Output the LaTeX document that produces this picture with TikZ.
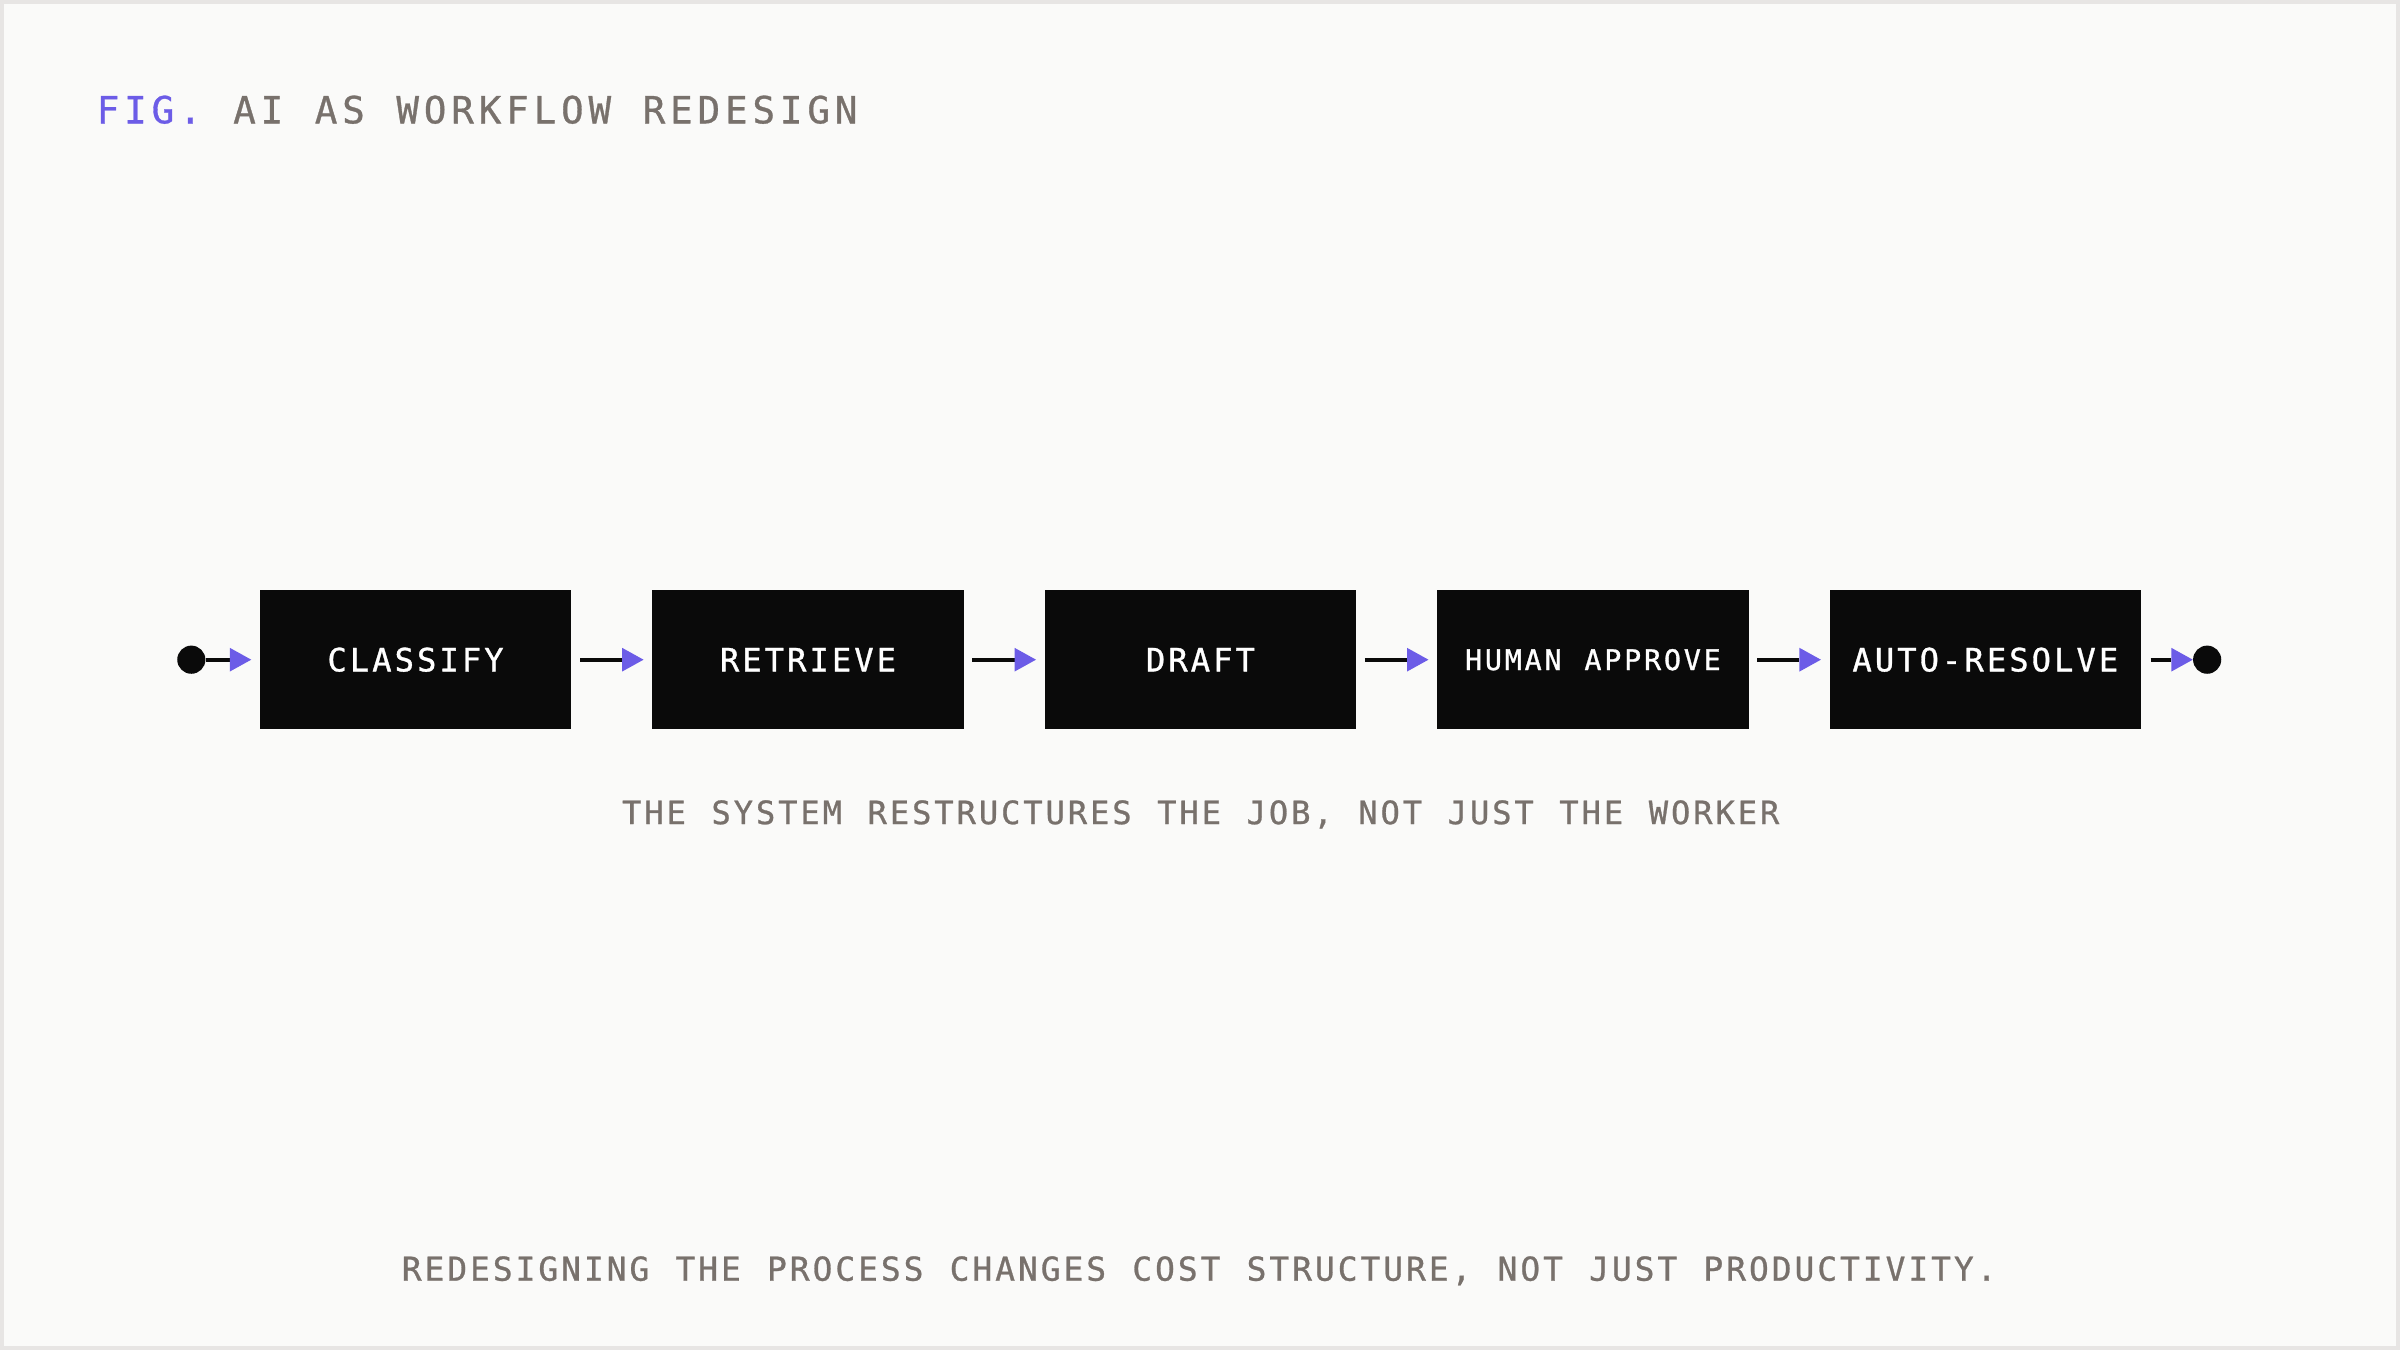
\documentclass[tikz,border=0pt]{standalone}
\usepackage{fontspec}
\usetikzlibrary{positioning,arrows.meta}

\definecolor{paper}{HTML}{FAFAF9}
\definecolor{rim}{HTML}{E7E5E4}
\definecolor{ink}{HTML}{0A0A0A}
\definecolor{stone}{HTML}{78716C}
\definecolor{figviolet}{HTML}{6C5CE7}

\newfontfamily\titlefont[LetterSpace=13, WordSpace=1.15, FakeBold=0.8]{DejaVu Sans Mono}
\newfontfamily\stagefont[LetterSpace=9.5, FakeBold=1]{DejaVu Sans Mono}
\newfontfamily\smallstagefont[LetterSpace=10, WordSpace=1.15, FakeBold=1]{DejaVu Sans Mono}
\newfontfamily\notefont[LetterSpace=9, WordSpace=1.15, FakeBold=0.8]{DejaVu Sans Mono}

\tikzset{
  stage/.style={fill=ink, text=white, inner sep=0pt,
    minimum width=203.5pt, minimum height=91pt,
    font=\stagefont\fontsize{21}{25}\selectfont,
    text height=15.3pt, text depth=0pt},
  endpoint/.style={circle, fill=ink, inner sep=0pt, minimum size=18.4pt},
  flow/.style={ink, line width=2.6pt,
    -{Triangle[length=14pt, width=15.5pt, color=figviolet, line width=0pt]}},
  link/.style={shorten <=5.5pt, shorten >=5.5pt},
  note/.style={anchor=base, inner sep=0pt, text=stone,
    font=\notefont\fontsize{21}{25}\selectfont}
}

\begin{document}
\begin{tikzpicture}[x=1pt, y=1pt]
    % Page
    \useasboundingbox (0,0) rectangle (1568,-882);
    \fill[paper] (0,0) rectangle (1568,-882);
    \draw[rim, line width=2.6pt] (1.3,-1.3) rectangle (1566.7,-880.7);

    % Title
    \node[anchor=base west, inner sep=0pt, text=stone,
      font=\titlefont\fontsize{24.5}{28}\selectfont] (title) at (63,-80.6)
      {\textcolor{figviolet}{FIG.} AI AS WORKFLOW REDESIGN};

    % Pipeline
    \node[stage] (classify) at (271.5,-431) {CLASSIFY};
    \node[stage, right=52.5pt of classify] (retrieve) {RETRIEVE};
    \node[stage, right=52.5pt of retrieve] (draft) {DRAFT};
    \node[stage, right=52.5pt of draft, text height=13.5pt,
      font=\smallstagefont\fontsize{18.5}{22}\selectfont] (approve) {HUMAN APPROVE};
    \node[stage, right=52.5pt of approve] (resolve) {AUTO-RESOLVE};

    \node[endpoint] (start) at (125,-431) {};
    \node[endpoint] (finish) at (1442,-431) {};

    \draw[flow, shorten >=5.4pt] (start) -- (classify);
    \foreach \a/\b in {classify/retrieve, retrieve/draft, draft/approve, approve/resolve}
      \draw[flow, link] (\a) -- (\b);
    \draw[flow, shorten <=6pt] (resolve) -- (finish);

    % Captions
    \node[note] (caption) at (784.5,-538.4)
      {THE SYSTEM RESTRUCTURES THE JOB, NOT JUST THE WORKER};
    \node[note, font=\notefont\fontsize{21.5}{25}\selectfont] (footer) at (783.5,-836.7)
      {REDESIGNING THE PROCESS CHANGES COST STRUCTURE, NOT JUST PRODUCTIVITY.};
\end{tikzpicture}
\end{document}
